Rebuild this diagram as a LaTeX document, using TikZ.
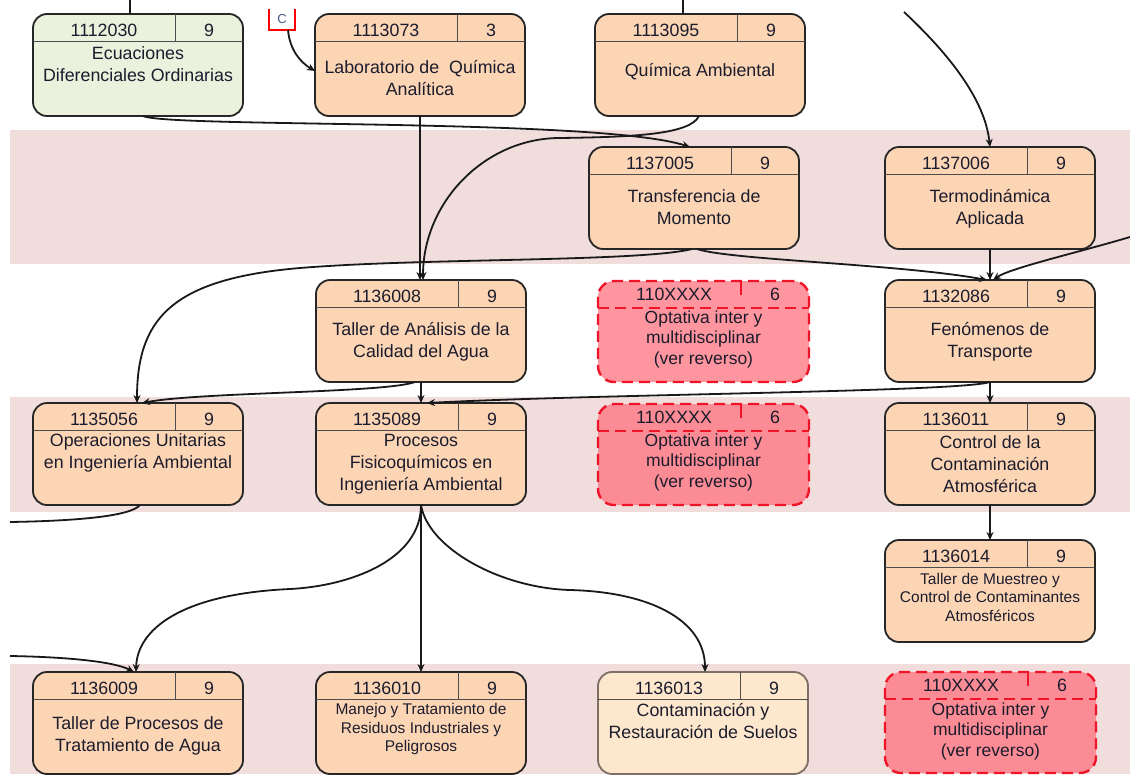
\documentclass[tikz,border=0pt]{standalone}
\usepackage{fontspec}
\setmainfont{Liberation Sans}
\usetikzlibrary{arrows.meta,calc}
\definecolor{orf}{RGB}{252,213,181}
\definecolor{grf}{RGB}{234,241,221}
\definecolor{bandc}{RGB}{242,221,221}
\definecolor{ltf}{RGB}{253,231,205}
\definecolor{ltb}{RGB}{125,112,100}
\definecolor{optf}{RGB}{255,105,118}
\definecolor{optb}{RGB}{240,20,40}
\definecolor{txtc}{RGB}{28,28,45}
\definecolor{cblue}{RGB}{70,90,130}
\newcommand{\nfont}{\fontsize{17.8}{22}\selectfont}
\newcommand{\sfontc}{\fontsize{15.5}{18.5}\selectfont}
\newcommand{\ttlf}{\nfont}
\tikzset{
  box/.style={draw=black!85, line width=1.8pt, rounded corners=14pt, fill=orf,
    minimum width=210pt, minimum height=102pt, inner sep=0pt, outer sep=0pt},
  gbox/.style={box, fill=grf},
  lbox/.style={box, fill=ltf, draw=ltb},
  obox/.style={draw=optb, line width=2.4pt, dash pattern=on 11pt off 6pt,
    rounded corners=16pt, fill=optf, fill opacity=0.7,
    minimum width=211pt, minimum height=101pt, inner sep=0pt, outer sep=0pt},
  hline/.style={draw=black!70, line width=0.9pt},
  oline/.style={draw=optb, line width=2.4pt, dash pattern=on 11pt off 6pt},
  hdr/.style={font=\nfont, text=txtc, inner sep=0pt},
  ttl/.style={font=\ttlf, text=txtc, align=center, inner sep=0pt},
  conn/.style={draw=black!90, line width=1.8pt},
  arr/.style={conn, -{Stealth[length=8pt,width=7pt]}},
}
% #1 style, #2 name, #3 x, #4 y, #5 code, #6 credits, #7 title, #8 title offset
\newcommand{\crs}[8][box]{%
  \node[#1, anchor=north west] (#2) at (#3,#4) {};
  \draw[hline] ([yshift=-27pt]#2.north west) -- ([yshift=-27pt]#2.north east);
  \draw[hline] ([xshift=-68pt]#2.north east) -- ([xshift=-68pt,yshift=-27pt]#2.north east);
  \node[hdr] (#2-code) at ([xshift=71pt,yshift=-16.5pt]#2.north west) {#5};
  \node[hdr] (#2-cr) at ([xshift=-34pt,yshift=-16.5pt]#2.north east) {#6};
  \node[ttl] (#2-t) at ([yshift=-#8pt]#2.north) {#7};
}
% #1 name, #2 x, #3 y, #4 title offset
\newcommand{\optc}[4]{%
  \node[obox, anchor=north west] (#1) at (#2,#3) {};
  \draw[oline] ([yshift=-27pt]#1.north west) -- ([yshift=-27pt]#1.north east);
  \draw[optb, line width=2.4pt] ([xshift=-68pt]#1.north east) -- ([xshift=-68pt,yshift=-14pt]#1.north east);
  \node[hdr] (#1-code) at ([xshift=76pt,yshift=-13pt]#1.north west) {110XXXX};
  \node[hdr] (#1-cr) at ([xshift=-34pt,yshift=-13pt]#1.north east) {6};
  \node[ttl, font=\fontsize{17.5}{20.5}\selectfont] (#1-t) at ([yshift=-#4pt]#1.north) {Optativa inter y\\multidisciplinar\\(ver reverso)};
}
\begin{document}
\begin{tikzpicture}[x=1pt,y=-1pt]
\useasboundingbox (0,0) rectangle (1130,774);
\clip (0,0) rectangle (1130,774);
\fill[white] (0,0) rectangle (1130,774);
% bands
\fill[bandc] (10,130) rectangle (1130,264);
\fill[bandc] (10,397) rectangle (1130,512);
\fill[bandc] (10,664) rectangle (1130,774);
% boxes
\crs[gbox]{n1112030}{33}{14}{1112030}{9}{Ecuaciones\\Diferenciales Ordinarias}{50}
\crs{n1113073}{315}{14}{1113073}{3}{Laboratorio de\ \ Química\\Analítica}{64}
\crs{n1113095}{595}{14}{1113095}{9}{Química Ambiental}{58}
\crs{n1137005}{589}{147}{1137005}{9}{Transferencia de\\Momento}{60}
\crs{n1137006}{885}{147}{1137006}{9}{Termodinámica\\Aplicada}{62}
\crs{n1136008}{316}{280}{1136008}{9}{Taller de Análisis de la\\Calidad del Agua}{62}
\optc{o1}{598}{281}{58}
\crs{n1132086}{885}{280}{1132086}{9}{Fenómenos de\\Transporte}{62}
\crs{n1135056}{33}{403}{1135056}{9}{Operaciones Unitarias\\en Ingeniería Ambiental}{50}
\crs{n1135089}{316}{403}{1135089}{9}{Procesos\\Fisicoquímicos en\\Ingeniería Ambiental}{61}
\optc{o2}{598}{404}{58}
\crs{n1136011}{885}{403}{1136011}{9}{Control de la\\Contaminación\\Atmosférica}{61}
\renewcommand{\ttlf}{\sfontc}
\crs{n1136014}{885}{540}{1136014}{9}{Taller de Muestreo y\\Control de Contaminantes\\Atmosféricos}{57}
\crs{n1136010}{316}{672}{1136010}{9}{Manejo y Tratamiento de\\Residuos Industriales y\\Peligrosos}{57}
\renewcommand{\ttlf}{\nfont}
\crs{n1136009}{33}{672}{1136009}{9}{Taller de Procesos de\\Tratamiento de Agua}{64}
\crs[lbox]{n1136013}{598}{672}{1136013}{9}{Contaminación y\\Restauración de Suelos}{49}
\optc{o3}{885}{672}{59}
% C box
\node[inner sep=0pt, minimum width=25pt, minimum height=21pt, text=cblue,
  font=\fontsize{13}{13}\selectfont] (cb) at (282,19.5) {C};
\draw[red, line width=1.8pt] (cb.north west) -- (cb.south west) -- (cb.south east) -- (cb.north east);
% free ends
\coordinate (tA) at (130,0);
\coordinate (tB) at (683,0);
\coordinate (tC) at (904,12);
\coordinate (rE) at (1130,237);
\coordinate (lA) at (10,522);
\coordinate (lB) at (10,656);
% connectors
\draw[conn] (tA) -- (tA |- n1112030.north);
\draw[conn] (tB) -- (tB |- n1113095.north);
\draw[arr] (tC) .. controls (950,55) and (985,100) .. (n1137006.north);
\draw[arr] ([xshift=6pt]cb.south) .. controls (290,50) and (300,62) .. ([yshift=-6pt]n1113073.west);
\draw[arr] ([xshift=5pt]n1112030.south) .. controls (170,128) and (600,118) .. ([xshift=-4pt]n1137005.north);
\draw[arr] ([xshift=-1pt]n1113095.south) .. controls (690,135) and (630,137) .. (560,138) .. controls (485,138) and (423,202) .. ([xshift=2pt]n1136008.north);
\draw[arr] (n1113073.south) -- (n1113073.south |- n1136008.north);
\draw[arr] ([xshift=-2pt]n1137005.south) .. controls (640,262) and (420,258) .. (300,268) .. controls (170,279) and (137,320) .. ([xshift=-1pt]n1135056.north);
\draw[arr] ([xshift=3pt]n1137005.south) .. controls (730,260) and (900,264) .. ([xshift=-3pt]n1132086.north);
\draw[arr] (rE) .. controls (1080,252) and (1010,268) .. ([xshift=3pt]n1132086.north);
\draw[arr] (n1137006.south) -- (n1132086.north);
\draw[arr] ([xshift=-6pt]n1136008.south) .. controls (385,393) and (200,392) .. ([xshift=4pt]n1135056.north);
\draw[arr] (n1136008.south) -- (n1135089.north);
\draw[arr] (n1132086.south) .. controls (960,392) and (600,394) .. ([xshift=6pt]n1135089.north);
\draw[arr] (n1132086.south) -- (n1136011.north);
\draw[arr] (n1136011.south) -- (n1136014.north);
\draw[conn] ([xshift=2pt]n1135056.south) .. controls (130,517) and (70,521) .. (lA);
\draw[arr] (lB) .. controls (70,657) and (115,662) .. ([xshift=-4pt]n1136009.north);
\draw[arr] (n1135089.south) .. controls (421,560) and (350,586) .. (290,589) .. controls (180,594) and (137,630) .. ([xshift=-2pt]n1136009.north);
\draw[arr] (n1135089.south) -- (n1135089.south |- n1136010.north);
\draw[arr] (n1135089.south) .. controls (428,548) and (500,588) .. (570,590) .. controls (650,592) and (705,620) .. ([xshift=2pt]n1136013.north);
\end{tikzpicture}
\end{document}
